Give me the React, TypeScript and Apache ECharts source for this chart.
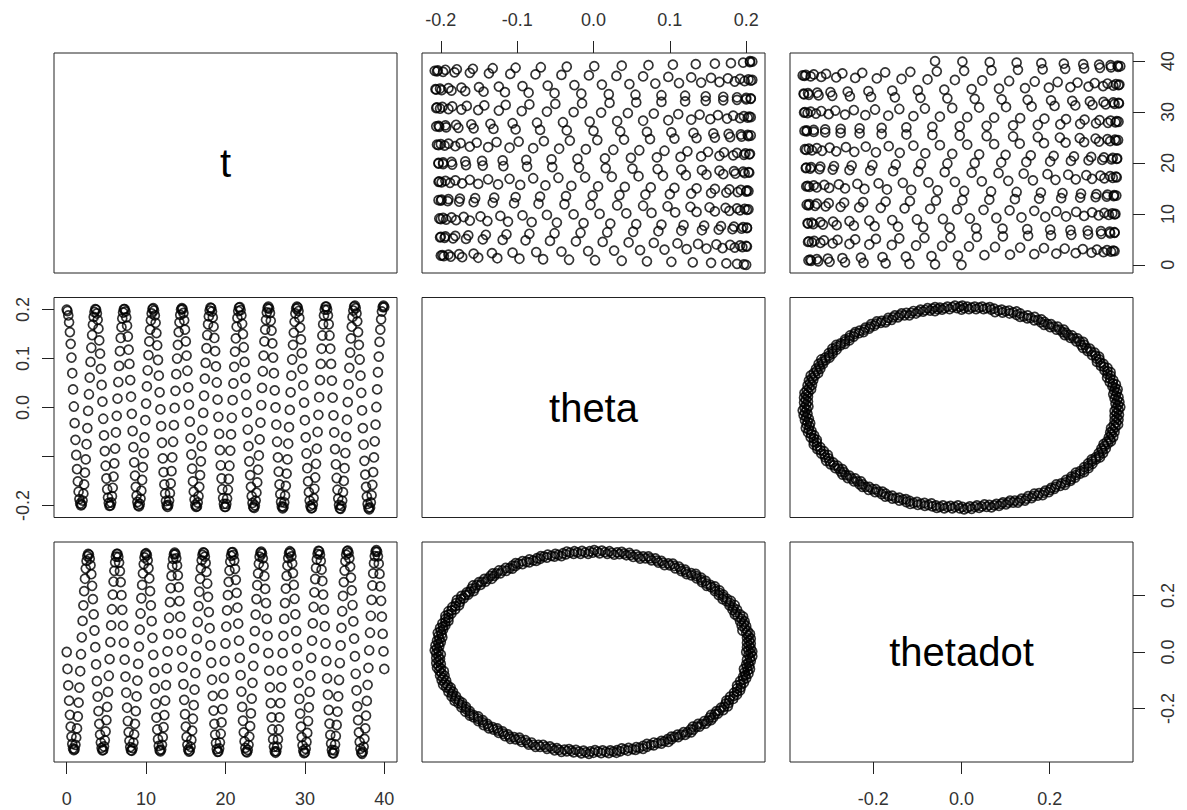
import React, { useEffect, useRef } from 'react';
import * as echarts from 'echarts';

// time samples (s)
const T = [
0,0.1,0.2,0.3,0.4,0.5,0.6,0.7,0.8,0.9,
1,1.1,1.2,1.3,1.4,1.5,1.6,1.7,1.8,1.9,
2,2.1,2.2,2.3,2.4,2.5,2.6,2.7,2.8,2.9,
3,3.1,3.2,3.3,3.4,3.5,3.6,3.7,3.8,3.9,
4,4.1,4.2,4.3,4.4,4.5,4.6,4.7,4.8,4.9,
5,5.1,5.2,5.3,5.4,5.5,5.6,5.7,5.8,5.9,
6,6.1,6.2,6.3,6.4,6.5,6.6,6.7,6.8,6.9,
7,7.1,7.2,7.3,7.4,7.5,7.6,7.7,7.8,7.9,
8,8.1,8.2,8.3,8.4,8.5,8.6,8.7,8.8,8.9,
9,9.1,9.2,9.3,9.4,9.5,9.6,9.7,9.8,9.9,
10,10.1,10.2,10.3,10.4,10.5,10.6,10.7,10.8,10.9,
11,11.1,11.2,11.3,11.4,11.5,11.6,11.7,11.8,11.9,
12,12.1,12.2,12.3,12.4,12.5,12.6,12.7,12.8,12.9,
13,13.1,13.2,13.3,13.4,13.5,13.6,13.7,13.8,13.9,
14,14.1,14.2,14.3,14.4,14.5,14.6,14.7,14.8,14.9,
15,15.1,15.2,15.3,15.4,15.5,15.6,15.7,15.8,15.9,
16,16.1,16.2,16.3,16.4,16.5,16.6,16.7,16.8,16.9,
17,17.1,17.2,17.3,17.4,17.5,17.6,17.7,17.8,17.9,
18,18.1,18.2,18.3,18.4,18.5,18.6,18.7,18.8,18.9,
19,19.1,19.2,19.3,19.4,19.5,19.6,19.7,19.8,19.9,
20,20.1,20.2,20.3,20.4,20.5,20.6,20.7,20.8,20.9,
21,21.1,21.2,21.3,21.4,21.5,21.6,21.7,21.8,21.9,
22,22.1,22.2,22.3,22.4,22.5,22.6,22.7,22.8,22.9,
23,23.1,23.2,23.3,23.4,23.5,23.6,23.7,23.8,23.9,
24,24.1,24.2,24.3,24.4,24.5,24.6,24.7,24.8,24.9,
25,25.1,25.2,25.3,25.4,25.5,25.6,25.7,25.8,25.9,
26,26.1,26.2,26.3,26.4,26.5,26.6,26.7,26.8,26.9,
27,27.1,27.2,27.3,27.4,27.5,27.6,27.7,27.8,27.9,
28,28.1,28.2,28.3,28.4,28.5,28.6,28.7,28.8,28.9,
29,29.1,29.2,29.3,29.4,29.5,29.6,29.7,29.8,29.9,
30,30.1,30.2,30.3,30.4,30.5,30.6,30.7,30.8,30.9,
31,31.1,31.2,31.3,31.4,31.5,31.6,31.7,31.8,31.9,
32,32.1,32.2,32.3,32.4,32.5,32.6,32.7,32.8,32.9,
33,33.1,33.2,33.3,33.4,33.5,33.6,33.7,33.8,33.9,
34,34.1,34.2,34.3,34.4,34.5,34.6,34.7,34.8,34.9,
35,35.1,35.2,35.3,35.4,35.5,35.6,35.7,35.8,35.9,
36,36.1,36.2,36.3,36.4,36.5,36.6,36.7,36.8,36.9,
37,37.1,37.2,37.3,37.4,37.5,37.6,37.7,37.8,37.9,
38,38.1,38.2,38.3,38.4,38.5,38.6,38.7,38.8,38.9,
39,39.1,39.2,39.3,39.4,39.5,39.6,39.7,39.8,39.9,
40
];

// pendulum angle (rad)
const THETA = [
.200,.197,.188,.174,.154,.130,.102,.070,.037,.002,-.032,-.066,-.097,-.126,-.151,-.172,-.187,-.196,-.200,-.198,-.190,-.176,-.157,-.133,-.106,-.075,-.042,-.007,.027,.061,.093,.122,.148,.169,.185,.195,
.201,.200,.192,.179,.161,.137,.110,.079,.046,.012,-.023,-.057,-.089,-.119,-.145,-.167,-.184,-.195,-.201,-.200,-.194,-.181,-.164,-.141,-.114,-.084,-.051,-.017,.018,.052,.085,.115,.142,.164,.182,.194,
.201,.201,.196,.184,.167,.145,.118,.089,.056,.022,-.013,-.048,-.081,-.112,-.139,-.162,-.180,-.193,-.200,-.202,-.197,-.186,-.170,-.148,-.122,-.093,-.061,-.026,.008,.043,.076,.107,.135,.159,.178,.192,
.201,.203,.198,.188,.173,.152,.127,.097,.065,.031,-.004,-.038,-.072,-.104,-.132,-.157,-.176,-.191,-.200,-.203,-.199,-.190,-.175,-.155,-.130,-.102,-.070,-.036,-.001,.034,.068,.100,.128,.154,.174,.189,
.200,.203,.201,.193,.178,.159,.135,.106,.075,.041,.006,-.029,-.063,-.096,-.125,-.151,-.172,-.188,-.199,-.203,-.202,-.194,-.181,-.162,-.138,-.110,-.079,-.046,-.011,.024,.059,.091,.121,.148,.170,.186,
.198,.204,.203,.196,.184,.165,.142,.115,.084,.051,.016,-.019,-.054,-.087,-.118,-.145,-.167,-.185,-.197,-.203,-.203,-.197,-.186,-.168,-.146,-.119,-.088,-.055,-.021,.015,.049,.083,.114,.141,.165,.183,
.197,.204,.205,.199,.188,.171,.150,.123,.093,.060,.026,-.010,-.045,-.079,-.110,-.138,-.162,-.181,-.195,-.203,-.205,-.200,-.190,-.174,-.153,-.127,-.098,-.065,-.031,.005,.040,.074,.106,.135,.159,.179,
.194,.203,.206,.202,.193,.177,.157,.131,.102,.070,.035,.000,-.035,-.070,-.102,-.131,-.157,-.177,-.193,-.202,-.206,-.203,-.194,-.180,-.160,-.135,-.106,-.074,-.040,-.005,.031,.065,.098,.128,.153,.175,
.192,.202,.206,.204,.197,.183,.163,.139,.111,.079,.045,.010,-.026,-.061,-.094,-.124,-.151,-.173,-.190,-.201,-.206,-.205,-.198,-.185,-.166,-.143,-.115,-.084,-.050,-.015,.021,.056,.089,.120,.147,.170,
.188,.200,.206,.206,.200,.188,.170,.147,.120,.089,.055,.020,-.016,-.051,-.085,-.116,-.144,-.168,-.186,-.199,-.206,-.207,-.201,-.190,-.173,-.150,-.124,-.093,-.060,-.025,.011,.047,.081,.112,.141,.165,
.185,.198,.206,.208,.203,.192,.176,.154,.128,.098,.065,.030,-.006,-.042,-.076,-.109,-.137,-.162,-.182,-.197,-.205,-.208,-.204,-.194,-.179,-.158,-.132,-.102,-.069,-.035,.001,.037,.072,.104,.134,.159,
.180,.196,.205,.208,.205
];

// angular velocity (rad/s)
const THETADOT = [
0,-.060,-.118,-.172,-.222,-.264,-.299,-.325,-.341,-.347,-.343,-.328,-.303,-.270,-.228,-.179,-.126,-.068,-.008,.052,.110,.165,.215,.259,.295,.322,.339,.347,.344,.330,.307,.275,.234,.187,.133,.076,
.017,-.044,-.103,-.158,-.209,-.254,-.292,-.320,-.339,-.348,-.346,-.334,-.312,-.281,-.241,-.194,-.141,-.084,-.025,.035,.094,.151,.203,.249,.287,.317,.337,.347,.347,.336,.316,.286,.247,.201,.149,.093,
.033,-.027,-.087,-.144,-.197,-.244,-.283,-.314,-.336,-.348,-.349,-.340,-.320,-.291,-.254,-.209,-.157,-.101,-.042,.019,.079,.136,.190,.237,.278,.311,.334,.347,.349,.342,.324,.296,.260,.215,.165,.109,
.050,-.010,-.071,-.129,-.183,-.232,-.274,-.308,-.332,-.347,-.351,-.345,-.328,-.301,-.266,-.223,-.172,-.117,-.058,.002,.063,.121,.176,.226,.269,.304,.329,.345,.351,.346,.331,.306,.271,.229,.180,.125,
.067,.006,-.054,-.114,-.169,-.220,-.264,-.300,-.328,-.345,-.352,-.349,-.335,-.311,-.278,-.236,-.188,-.133,-.075,-.015,.046,.106,.162,.213,.259,.296,.324,.343,.352,.350,.337,.315,.283,.242,.195,.141,
.084,.023,-.038,-.098,-.155,-.207,-.254,-.292,-.322,-.343,-.353,-.352,-.341,-.320,-.289,-.249,-.202,-.149,-.092,-.032,.030,.090,.147,.201,.248,.288,.319,.340,.352,.353,.343,.323,.294,.255,.209,.157,
.100,.040,-.021,-.082,-.140,-.194,-.243,-.284,-.316,-.339,-.352,-.355,-.346,-.328,-.299,-.262,-.217,-.165,-.109,-.049,.013,.074,.132,.187,.236,.278,.312,.337,.351,.355,.348,.331,.304,.268,.223,.173,
.117,.057,-.004,-.066,-.125,-.181,-.231,-.274,-.309,-.335,-.351,-.356,-.351,-.335,-.309,-.274,-.231,-.181,-.125,-.066,-.004,.057,.117,.173,.224,.269,.305,.332,.349,.356,.352,.338,.313,.279,.237,.188,
.133,.074,.013,-.049,-.109,-.166,-.218,-.264,-.301,-.330,-.349,-.357,-.355,-.342,-.318,-.286,-.244,-.196,-.141,-.083,-.021,.040,.101,.159,.211,.258,.297,.327,.347,.357,.356,.344,.322,.291,.251,.203,
.150,.091,.030,-.032,-.093,-.151,-.205,-.253,-.293,-.324,-.346,-.357,-.358,-.348,-.327,-.297,-.258,-.211,-.157,-.099,-.039,.023,.085,.144,.198,.247,.288,.321,.344,.356,.358,.350,.331,.302,.263,.218,
.166,.108,.047,-.015,-.077,-.136,-.192,-.241,-.284,-.318,-.342,-.356,-.360,-.353,-.335,-.307,-.270,-.225,-.173,-.116,-.056,.006,.068,.128,.184,.235,.278,.314,.339,.355,.360,.354,.338,.312,.276,.232,
.181,.125,.064,.002,-.060
];

const VAR_NAMES = ['t', 'theta', 'thetadot'];
const T_TICKS = [0, 10, 20, 30, 40];
const THETA_TICKS = [-0.2, -0.1, 0, 0.1, 0.2];
const THETADOT_TICKS = [-0.2, 0, 0.2];

const FONT = '"Liberation Sans", Arial, Helvetica, sans-serif';
const COL_LEFT = [54, 422, 790];
const ROW_TOP = [53, 297.5, 542];
const PANEL_W = 343;
const PANEL_H = 220;

export default function App() {
  const ref = useRef<HTMLDivElement>(null);
  useEffect(() => {
    if (!ref.current) return;
    const chart = echarts.init(ref.current, null, { renderer: 'svg' });
    const vars = [T, THETA, THETADOT];
    const ticks = [T_TICKS, THETA_TICKS, THETADOT_TICKS];
    const ranges = vars.map((a) => {
      let mn = Infinity;
      let mx = -Infinity;
      for (const v of a) {
        if (v < mn) mn = v;
        if (v > mx) mx = v;
      }
      const r = mx - mn;
      return [mn - 0.04 * r, mx + 0.04 * r];
    });
    const fmt = (k: number) => (v: number) => (k === 0 ? String(Math.round(v)) : v.toFixed(1));
    const leftFmt = (v: number) => (Math.abs(v + 0.1) < 1e-9 ? '' : v.toFixed(1));

    const grids: any[] = [];
    const xAxes: any[] = [];
    const yAxes: any[] = [];
    const series: any[] = [];
    const graphics: any[] = [];
    const labelStyle = { fontSize: 18, color: '#333', fontFamily: FONT };
    const tickStyle = { color: '#222', width: 1 };

    for (let r = 0; r < 3; r++) {
      for (let c = 0; c < 3; c++) {
        const g = r * 3 + c;
        grids.push({
          left: COL_LEFT[c], top: ROW_TOP[r], width: PANEL_W, height: PANEL_H,
          show: true, borderColor: '#222', borderWidth: 1, backgroundColor: 'rgba(0,0,0,0)',
        });
        const showTop = r === 0 && c === 1;
        const showBottom = r === 2 && c !== 1;
        const showX = showTop || showBottom;
        const showLeft = r === 1 && c === 0;
        const showRight = c === 2 && r !== 1;
        const showY = showLeft || showRight;
        xAxes.push({
          type: 'value', gridIndex: g, min: ranges[c][0], max: ranges[c][1],
          position: showTop ? 'top' : 'bottom',
          splitLine: { show: false }, axisLine: { show: false, onZero: false },
          axisTick: { show: showX, customValues: ticks[c], length: 12, inside: false, lineStyle: tickStyle },
          axisLabel: {
            show: showX, customValues: ticks[c], formatter: fmt(c),
            margin: showTop ? 24 : 28, ...labelStyle,
          },
        });
        yAxes.push({
          type: 'value', gridIndex: g, min: ranges[r][0], max: ranges[r][1],
          position: showLeft ? 'left' : 'right',
          splitLine: { show: false }, axisLine: { show: false, onZero: false },
          axisTick: { show: showY, customValues: ticks[r], length: 12, inside: false, lineStyle: tickStyle },
          axisLabel: {
            show: showY, customValues: ticks[r], rotate: 90,
            formatter: showLeft ? leftFmt : fmt(r), margin: showLeft ? 22 : 26, ...labelStyle,
          },
        });
        if (r !== c) {
          series.push({
            type: 'scatter', xAxisIndex: g, yAxisIndex: g,
            data: T.map((_, i) => [vars[c][i], vars[r][i]]),
            symbol: 'circle', symbolSize: 9, silent: true,
            itemStyle: { color: 'rgba(0,0,0,0)', borderColor: '#000', borderWidth: 1.7 },
          });
        } else {
          graphics.push({
            type: 'text',
            x: COL_LEFT[c] + PANEL_W / 2,
            y: ROW_TOP[r] + PANEL_H / 2,
            style: {
              text: VAR_NAMES[r], fontSize: 40, fontFamily: FONT, fill: '#000',
              textAlign: 'center', textVerticalAlign: 'middle',
            },
          });
        }
      }
    }

    chart.setOption({
      animation: false,
      backgroundColor: '#fff',
      grid: grids,
      xAxis: xAxes,
      yAxis: yAxes,
      series,
      graphic: graphics,
    });
    return () => chart.dispose();
  }, []);
  return <div ref={ref} style={{ position: 'absolute', left: 0, top: 0, width: 1187, height: 810 }} />;
}
